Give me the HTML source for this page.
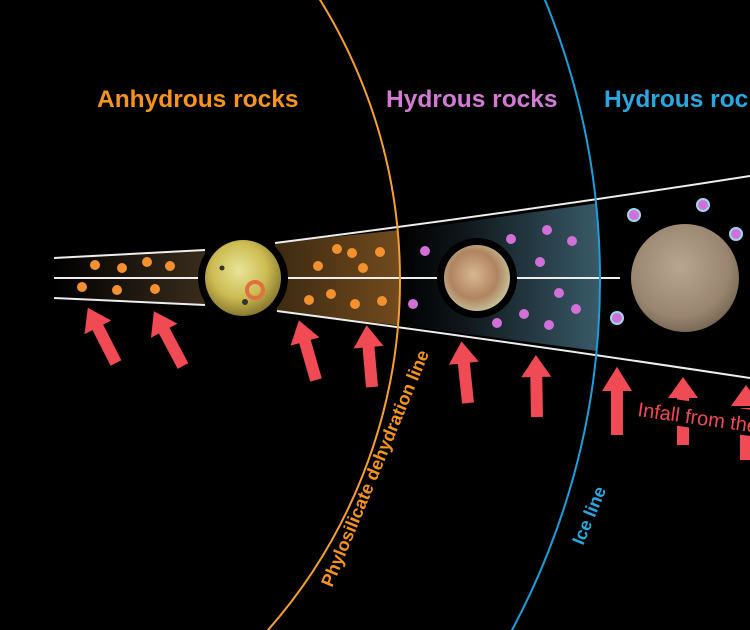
<!DOCTYPE html>
<html><head><style>html,body{margin:0;padding:0;background:#000;overflow:hidden;width:750px;height:630px}svg{display:block}</style></head>
<body>
<svg width="750" height="630" viewBox="0 0 750 630" xmlns="http://www.w3.org/2000/svg" font-family="Liberation Sans, sans-serif">
<defs>
<linearGradient id="gl" x1="0" x2="1"><stop offset="0" stop-color="#000"/><stop offset="1" stop-color="#3a2c1c"/></linearGradient>
<linearGradient id="go" x1="0" x2="1"><stop offset="0" stop-color="#3d2a12"/><stop offset="1" stop-color="#7a4f1e"/></linearGradient>
<linearGradient id="gb" x1="0" x2="1"><stop offset="0" stop-color="#000"/><stop offset="0.3" stop-color="#10181c"/><stop offset="1" stop-color="#3f6474"/></linearGradient>
<radialGradient id="io" cx="0.45" cy="0.4" r="0.6"><stop offset="0" stop-color="#e8e498"/><stop offset="0.6" stop-color="#cdbc52"/><stop offset="1" stop-color="#8a7a30"/></radialGradient>
<radialGradient id="eu" cx="0.45" cy="0.45" r="0.6"><stop offset="0" stop-color="#d8b890"/><stop offset="0.6" stop-color="#b08460"/><stop offset="1" stop-color="#c8c8a0"/></radialGradient>
<radialGradient id="ga" cx="0.45" cy="0.4" r="0.65"><stop offset="0" stop-color="#b8a690"/><stop offset="0.7" stop-color="#9a8670"/><stop offset="1" stop-color="#6e604e"/></radialGradient>
<clipPath id="cOr"><circle cx="-130" cy="280" r="530"/></clipPath>
<clipPath id="cBl"><circle cx="-140" cy="280" r="740"/></clipPath>
<g id="arr"><polygon points="-6,0 -6,-40 -15,-40 0,-62 15,-40 6,-40 6,0" fill="#f04a55"/></g>
</defs>
<rect width="750" height="630" fill="#000"/>
<polygon points="54,258 205,250 205,305 54,298" fill="url(#gl)"/>
<g clip-path="url(#cOr)"><polygon points="275,243 420,228 420,328 277,311" fill="url(#go)"/></g>
<g clip-path="url(#cBl)"><polygon points="400,231 620,200 620,354 400,325" fill="url(#gb)"/></g>
<g stroke="#eee" stroke-width="2" fill="none">
<path d="M54,258 L205,250"/><path d="M54,298 L205,305"/>
<path d="M54,278 L200,278"/>
<path d="M275,243 Q520,212 750,176"/>
<path d="M277,311 Q520,343 750,378"/>
<path d="M285,278 L440,278"/><path d="M515,278 L620,278"/>
</g>
<circle cx="-130" cy="280" r="530" fill="none" stroke="#f5a030" stroke-width="2"/>
<circle cx="-140" cy="280" r="740" fill="none" stroke="#1aa0dc" stroke-width="2"/>
<g fill="#f39030">
<circle cx="95" cy="265" r="5"/><circle cx="122" cy="268" r="5"/><circle cx="147" cy="262" r="5"/><circle cx="170" cy="266" r="5"/>
<circle cx="82" cy="287" r="5"/><circle cx="117" cy="290" r="5"/><circle cx="155" cy="289" r="5"/>
<circle cx="337" cy="249" r="5"/><circle cx="352" cy="253" r="5"/><circle cx="380" cy="252" r="5"/><circle cx="318" cy="266" r="5"/><circle cx="363" cy="268" r="5"/>
<circle cx="309" cy="300" r="5"/><circle cx="331" cy="294" r="5"/><circle cx="355" cy="304" r="5"/><circle cx="382" cy="301" r="5"/>
</g>
<g fill="#d070d8">
<circle cx="425" cy="251" r="5"/><circle cx="413" cy="304" r="5"/><circle cx="511" cy="239" r="5"/><circle cx="547" cy="230" r="5"/><circle cx="572" cy="241" r="5"/><circle cx="540" cy="262" r="5"/>
<circle cx="559" cy="293" r="5"/><circle cx="576" cy="309" r="5"/><circle cx="524" cy="314" r="5"/><circle cx="497" cy="323" r="5"/><circle cx="549" cy="325" r="5"/>
</g>
<g fill="#d070d8" stroke="#9ad8f0" stroke-width="2">
<circle cx="634" cy="215" r="6"/><circle cx="703" cy="205" r="6"/><circle cx="736" cy="234" r="6"/><circle cx="617" cy="318" r="6"/>
</g>
<circle cx="243" cy="278" r="45" fill="#000"/>
<circle cx="243" cy="278" r="38" fill="url(#io)"/>
<circle cx="255" cy="290" r="8" fill="none" stroke="#e07040" stroke-width="4"/>
<circle cx="222" cy="268" r="2.5" fill="#333"/><circle cx="245" cy="302" r="3" fill="#333"/>
<circle cx="477" cy="278" r="40" fill="#000"/>
<circle cx="477" cy="278" r="33" fill="url(#eu)"/>
<circle cx="685" cy="278" r="54" fill="url(#ga)"/>
<use href="#arr" transform="translate(116,363) rotate(-27)"/>
<use href="#arr" transform="translate(183,366) rotate(-28)"/>
<use href="#arr" transform="translate(316,380) rotate(-16)"/>
<use href="#arr" transform="translate(372,387) rotate(-5)"/>
<use href="#arr" transform="translate(468,403) rotate(-6)"/>
<use href="#arr" transform="translate(537,417) rotate(-1)"/>
<use href="#arr" transform="translate(617,435) scale(1,1.1)"/>
<g fill="#f04a55"><polygon points="677,445 677,398 689,398 689,445"/><polygon points="668,398 683,377 698,398"/></g>
<polygon points="740,460 740,408 752,408 752,460" fill="#f04a55"/>
<polygon points="731,406 746,385 761,406" fill="#f04a55"/>
<text x="97" y="107" font-size="24.5" font-weight="bold" fill="#f7941d">Anhydrous rocks</text>
<text x="386" y="107" font-size="24.5" font-weight="bold" fill="#d27ad4">Hydrous rocks</text>
<text x="604" y="107" font-size="24.5" font-weight="bold" fill="#29a8e0">Hydrous rocks</text>
<rect x="632" y="394" width="130" height="26" fill="#000" transform="rotate(8 637 410)"/>
<text x="637" y="416" font-size="20" fill="#f04a55" transform="rotate(8 637 416)">Infall from the</text>
<text x="332" y="588" font-size="18" font-weight="bold" fill="#f7941d" transform="rotate(-67.5 332 588)">Phylosilicate dehydration line</text>
<text x="583" y="546" font-size="18" font-weight="bold" fill="#29a8e0" transform="rotate(-67.5 583 546)">Ice line</text>
</svg>
</body></html>
